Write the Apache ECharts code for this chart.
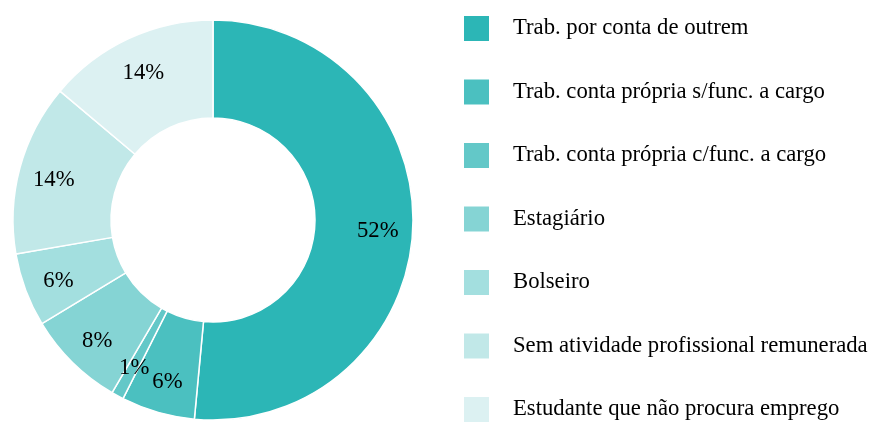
<!DOCTYPE html>
<html>
<head>
<meta charset="utf-8">
<script src="https://cdn.jsdelivr.net/npm/echarts@6/dist/echarts.min.js"></script>
<style>
  html, body { margin: 0; padding: 0; background: #fff; }
  #main { width: 873px; height: 423px; }
</style>
</head>
<body>
<div id="main"></div>
<script>
const categories = [
  'Trab. por conta de outrem',
  'Trab. conta própria s/func. a cargo',
  'Trab. conta própria c/func. a cargo',
  'Estagiário',
  'Bolseiro',
  'Sem atividade profissional remunerada',
  'Estudante que não procura emprego'
];
const values = [52, 6, 1, 8, 6, 14, 14];
const colors = ['#2cb6b6', '#4bc0c0', '#63c8c8', '#85d4d4', '#a3dfdf', '#c1e8e8', '#dcf1f2'];

const font = '"Liberation Serif", "Times New Roman", serif';
const chart = echarts.init(document.getElementById('main'));

const option = {
  animation: false,
  color: colors,
  legend: {
    orient: 'vertical',
    left: 464,
    top: 16,
    height: 420,
    padding: 0,
    itemWidth: 25,
    itemHeight: 25,
    itemGap: 38.5,
    icon: 'rect',
    itemStyle: { borderWidth: 0 },
    data: categories,
    textStyle: {
      fontFamily: font,
      fontSize: 22.7,
      lineHeight: 25,
      color: '#000',
      padding: [0, 0, 0, 19]
    }
  },
  series: [
    {
      type: 'pie',
      center: [213, 220],
      radius: [102, 200],
      startAngle: 90,
      clockwise: true,
      avoidLabelOverlap: false,
      itemStyle: { borderColor: '#fff', borderWidth: 1.5 },
      label: { show: false },
      labelLine: { show: false },
      data: categories.map((name, i) => ({ name, value: values[i] }))
    },
    {
      // label-only overlay, so the percentages sit a bit outside the ring's middle
      type: 'pie',
      silent: true,
      center: [213, 220],
      radius: [124, 200],
      startAngle: 90,
      clockwise: true,
      avoidLabelOverlap: false,
      itemStyle: { color: 'rgba(0,0,0,0)', borderWidth: 0 },
      label: {
        show: true,
        position: 'inside',
        formatter: '{c}%',
        fontFamily: font,
        fontSize: 22.7,
        color: '#000',
        offset: [0, 3]
      },
      labelLine: { show: false },
      data: categories.map((name, i) => ({ name, value: values[i] }))
    }
  ]
};

chart.setOption(option);
</script>
</body>
</html>
